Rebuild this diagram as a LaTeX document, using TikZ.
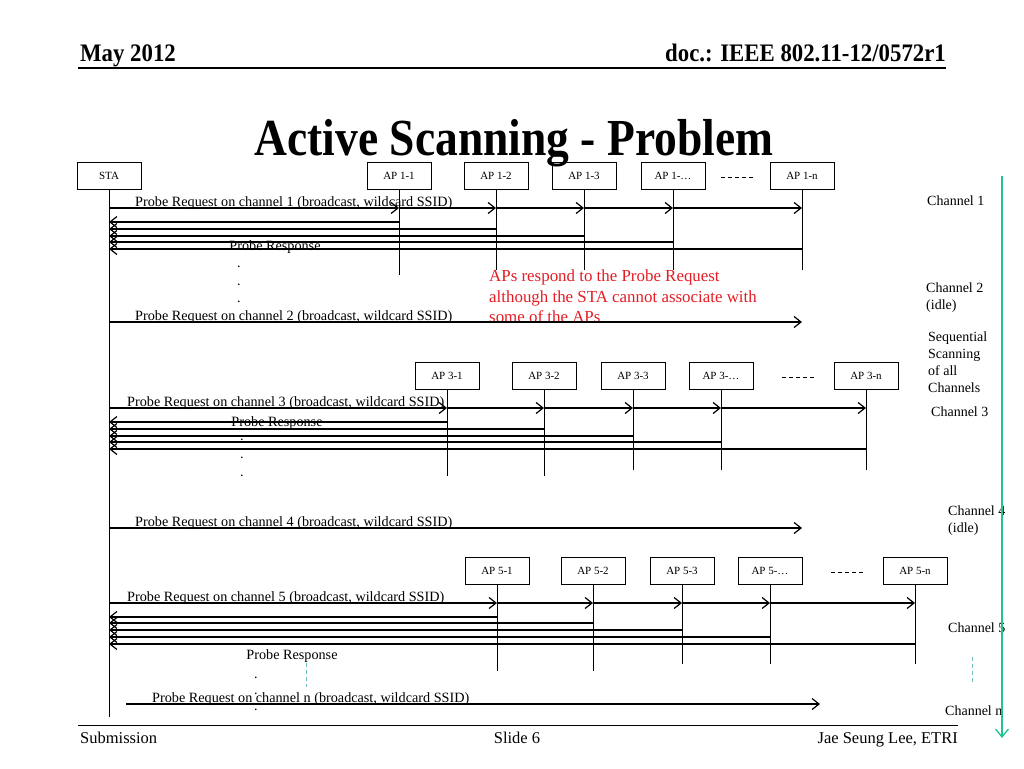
\documentclass[tikz,border=0pt]{standalone}
\usepackage{fontspec}
\setmainfont{Liberation Serif}
\usetikzlibrary{arrows.meta}

\definecolor{notered}{RGB}{228,28,36}
\definecolor{scangreen}{RGB}{30,196,146}
\definecolor{gapteal}{RGB}{110,190,190}

\begin{document}
\begin{tikzpicture}[x=1pt,y=-1pt,
	box/.style={draw,line width=0.8pt,minimum width=64pt,minimum height=27pt,inner sep=0pt,font=\fontsize{11}{13}\selectfont},
	life/.style={line width=1pt},
	msg/.style={line width=1.2pt,-{Straight Barb[length=7pt,width=11pt]}},
	lbl/.style={inner sep=0pt,font=\fontsize{14.2}{16}\selectfont},
	side/.style={inner sep=0pt,anchor=base west,align=left,font=\fontsize{14}{17}\selectfont},
	gap/.style={line width=1pt,dash pattern=on 4pt off 3pt}]
	\useasboundingbox (0,0) rectangle (1024,768);

	% header and footer
	\node[anchor=base west,inner sep=0pt,font=\bfseries\fontsize{24}{24}\selectfont] (date) at (80,62) {\scalebox{0.95}[1.05]{May 2012}};
	\node[anchor=base east,inner sep=0pt,font=\bfseries\fontsize{24}{24}\selectfont] (doc) at (946,62) {\scalebox{0.95}[1.05]{doc.: IEEE 802.11-12/0572r1}};
	\draw[line width=1.5pt] (78,68) -- (946,68);
	\node[anchor=base,inner sep=0pt,font=\bfseries\fontsize{52}{52}\selectfont] (title) at (514,155) {\scalebox{0.875}[1]{Active Scanning - Problem}};
	\draw[line width=1pt] (78,725) -- (958,725);
	\node[anchor=base west,inner sep=0pt,font=\fontsize{16.5}{18}\selectfont] (sub) at (80,743) {Submission};
	\node[anchor=base,inner sep=0pt,font=\fontsize{16.5}{18}\selectfont] (slide) at (517,743) {Slide 6};
	\node[anchor=base east,inner sep=0pt,font=\fontsize{16.5}{18}\selectfont] (auth) at (958,743) {Jae Seung Lee, ETRI};

	% station
	\node[box] (STA) at (109,175.5) {STA};
	\coordinate (ESTA) at (109,717);
	\draw[life] (STA) -- (ESTA);

	% channel 1
	\foreach \id/\txt/\x/\e in {11/1-1/399/275,12/1-2/496/270,13/1-3/584/270,1d/1-…/673/270,1n/1-n/802/270}{
		\node[box] (AP\id) at (\x,175.5) {AP \txt};
		\coordinate (E\id) at (\x,\e);
		\draw[life] (AP\id) -- (E\id);
	}
	\coordinate (g1a) at (721,177.5);
	\coordinate (g1b) at (755,177.5);
	\draw[gap] (g1a) -- (g1b);
	\coordinate (q1) at (0,208);
	\draw[msg] (STA |- q1) -- (AP11 |- q1);
	\foreach \a/\b in {11/12,12/13,13/1d,1d/1n}
		\draw[msg] (AP\a |- q1) -- (AP\b |- q1);
	\foreach \id/\y in {11/222,12/229,13/236,1d/242,1n/249}{
		\coordinate (r\id) at (0,\y);
		\draw[msg] (AP\id |- r\id) -- (STA |- r\id);
	}
	\node[lbl,anchor=base west] (t1) at (135,206) {Probe Request on channel 1 (broadcast, wildcard SSID)};
	\node[lbl,anchor=base] (p1) at (275,250) {Probe Response};
	\foreach \y [count=\i] in {267,285,302}
		\node[lbl,anchor=base] (d1\i) at (239,\y) {.};
	\node[inner sep=0pt,anchor=north west,align=left,text=notered,font=\fontsize{16.9}{20.5}\selectfont] (note) at (489,270)
		{APs respond to the Probe Request\\although the STA cannot associate with\\some of the APs};

	% channel 2
	\coordinate (q2) at (0,322);
	\draw[msg] (STA |- q2) -- (AP1n |- q2);
	\node[lbl,anchor=base west] (t2) at (135,320) {Probe Request on channel 2 (broadcast, wildcard SSID)};

	% channel 3
	\foreach \id/\txt/\x/\e in {31/3-1/447/476,32/3-2/544/476,33/3-3/633/470,3d/3-…/721/470,3n/3-n/866/470}{
		\node[box] (AP\id) at (\x,375.5) {AP \txt};
		\coordinate (E\id) at (\x,\e);
		\draw[life] (AP\id) -- (E\id);
	}
	\coordinate (g3a) at (782,377.5);
	\coordinate (g3b) at (815,377.5);
	\draw[gap] (g3a) -- (g3b);
	\coordinate (q3) at (0,408);
	\draw[msg] (STA |- q3) -- (AP31 |- q3);
	\foreach \a/\b in {31/32,32/33,33/3d,3d/3n}
		\draw[msg] (AP\a |- q3) -- (AP\b |- q3);
	\foreach \id/\y in {31/422,32/429,33/436,3d/442,3n/449}{
		\coordinate (r\id) at (0,\y);
		\draw[msg] (AP\id |- r\id) -- (STA |- r\id);
	}
	\node[lbl,anchor=base west] (t3) at (127,406) {Probe Request on channel 3 (broadcast, wildcard SSID)};
	\node[lbl,anchor=base] (p3) at (277,426) {Probe Response};
	\foreach \y [count=\i] in {440.5,458.5,476.5}
		\node[lbl,anchor=base] (d3\i) at (242,\y) {.};

	% channel 4
	\coordinate (q4) at (0,528);
	\draw[msg] (STA |- q4) -- (AP1n |- q4);
	\node[lbl,anchor=base west] (t4) at (135,526) {Probe Request on channel 4 (broadcast, wildcard SSID)};

	% channel 5
	\foreach \id/\txt/\x/\e in {51/5-1/497/671,52/5-2/593/671,53/5-3/682/664,5d/5-…/770/664,5n/5-n/915/664}{
		\node[box] (AP\id) at (\x,570.5) {AP \txt};
		\coordinate (E\id) at (\x,\e);
		\draw[life] (AP\id) -- (E\id);
	}
	\coordinate (g5a) at (831,572.5);
	\coordinate (g5b) at (864,572.5);
	\draw[gap] (g5a) -- (g5b);
	\coordinate (q5) at (0,603);
	\draw[msg] (STA |- q5) -- (AP51 |- q5);
	\foreach \a/\b in {51/52,52/53,53/5d,5d/5n}
		\draw[msg] (AP\a |- q5) -- (AP\b |- q5);
	\foreach \id/\y in {51/617,52/623,53/630,5d/637,5n/644}{
		\coordinate (r\id) at (0,\y);
		\draw[msg] (AP\id |- r\id) -- (STA |- r\id);
	}
	\node[lbl,anchor=base west] (t5) at (127,601) {Probe Request on channel 5 (broadcast, wildcard SSID)};
	\node[lbl,anchor=base] (p5) at (292,659) {Probe Response};
	\foreach \y [count=\i] in {678,694,710}
		\node[lbl,anchor=base] (d5\i) at (256,\y) {.};
	\coordinate (v5a) at (306,663);
	\coordinate (v5b) at (306,687);
	\draw[gapteal,line width=1pt,dash pattern=on 4pt off 3pt] (v5a) -- (v5b);

	% channel n
	\coordinate (qna) at (126,704);
	\coordinate (qnb) at (820,704);
	\draw[msg] (qna) -- (qnb);
	\node[lbl,anchor=base west] (tn) at (152,702) {Probe Request on channel n (broadcast, wildcard SSID)};

	% channels on the right
	\node[side] (c1) at (927,205) {Channel 1};
	\node[side] (c2) at (926,309) {Channel 2\\(idle)};
	\node[side] (seq) at (928,392) {Sequential\\Scanning\\of all\\Channels};
	\node[side] (c3) at (931,416) {Channel 3};
	\node[side] (c4) at (948,532) {Channel 4\\(idle)};
	\node[side] (c5) at (948,632) {Channel 5};
	\node[side] (cn) at (945,715) {Channel n};
	\coordinate (vra) at (972,657);
	\coordinate (vrb) at (972,682);
	\draw[gapteal,line width=1pt,dash pattern=on 4pt off 3pt] (vra) -- (vrb);
	\coordinate (scantop) at (1002,176);
	\coordinate (scanend) at (1002,738);
	\draw[scangreen,line width=1.3pt,-{Straight Barb[length=8pt,width=13pt]}] (scantop) -- (scanend);
\end{tikzpicture}
\end{document}
